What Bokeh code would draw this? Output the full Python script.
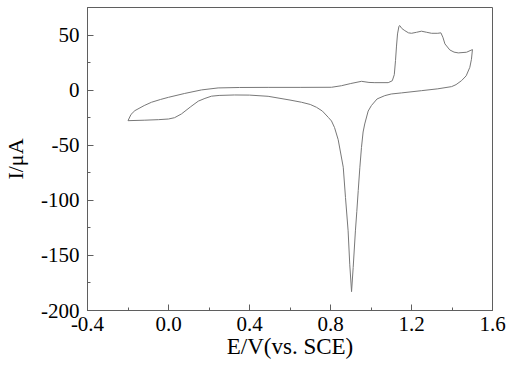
from bokeh.plotting import figure
from bokeh.models import FixedTicker, Range1d
from bokeh.embed import file_html
from bokeh.resources import INLINE

# ---- data ----
# forward (anodic) sweep from -0.2 V to 1.5 V
fwd_E = [-0.200, -0.185, -0.166, -0.120, -0.084, -0.040, 0.000, 0.080, 0.163, 0.245,
         0.350, 0.492, 0.650, 0.805, 0.854, 0.900, 0.953, 0.990, 1.019, 1.085,
         1.105, 1.115, 1.121, 1.126, 1.131, 1.138, 1.142, 1.152, 1.167, 1.185,
         1.200, 1.225, 1.249, 1.275, 1.299, 1.330, 1.345, 1.355, 1.365, 1.389,
         1.410, 1.431, 1.472, 1.501]
fwd_I = [-27.7, -22.0, -18.6, -14.0, -11.0, -8.5, -6.5, -3.0, 0.2, 2.0,
         2.4, 2.5, 2.5, 2.6, 4.0, 6.0, 8.0, 7.0, 6.8, 6.8,
         8.5, 14.0, 26.8, 40.0, 51.0, 58.0, 58.6, 56.0, 54.0, 52.0,
         51.6, 52.5, 53.5, 52.5, 51.6, 51.6, 52.0, 48.0, 42.0, 36.5,
         34.5, 33.8, 34.4, 36.8]
# reverse (cathodic) sweep from 1.5 V back to -0.2 V
rev_E = [1.496, 1.488, 1.470, 1.447, 1.420, 1.398, 1.330, 1.249, 1.151, 1.100,
         1.068, 1.030, 1.002, 0.986, 0.969, 0.961, 0.953, 0.945, 0.937, 0.930,
         0.923, 0.912, 0.904, 0.895, 0.887, 0.874, 0.863, 0.838, 0.820, 0.805,
         0.789, 0.760, 0.731, 0.700, 0.657, 0.600, 0.492, 0.400, 0.326, 0.250,
         0.212, 0.180, 0.147, 0.110, 0.064, 0.030, 0.000, -0.050, -0.120, -0.200]
rev_I = [28.0, 20.7, 13.0, 8.6, 5.0, 3.2, 1.2, -0.5, -2.5, -3.5,
         -5.0, -8.0, -14.0, -19.0, -30.7, -38.0, -52.0, -70.0, -91.0, -110.0,
         -127.7, -161.0, -182.9, -158.0, -127.7, -97.5, -70.0, -45.0, -34.0, -28.0,
         -24.7, -19.0, -15.6, -13.0, -11.0, -9.0, -5.6, -4.5, -4.4, -4.8,
         -5.5, -7.5, -10.0, -15.0, -21.6, -25.0, -26.2, -26.8, -27.3, -27.7]

x_ticks = [-0.4, 0.0, 0.4, 0.8, 1.2, 1.6]
x_tick_labels = ["-0.4", "0.0", "0.4", "0.8", "1.2", "1.6"]
x_minor = [-0.4, -0.2, 0.0, 0.2, 0.4, 0.6, 0.8, 1.0, 1.2, 1.4, 1.6]
y_ticks = [-200, -150, -100, -50, 0, 50]
y_tick_labels = ["-200", "-150", "-100", "-50", "0", "50"]
y_minor = [-200, -175, -150, -125, -100, -75, -50, -25, 0, 25, 50, 75]

x_title = "E/V(vs. SCE)"
y_title = "I/\u03bcA"

FONT = "Liberation Serif"
AX = "#5f5f5f"

p = figure(width=507, height=367, output_backend="svg", toolbar_location=None,
           title=None,
           x_range=Range1d(-0.4, 1.6), y_range=Range1d(-200, 75),
           min_border_left=86, min_border_right=15, min_border_top=7, min_border_bottom=57)
p.xgrid.visible = False
p.ygrid.visible = False
p.outline_line_color = AX
p.outline_line_width = 1
p.background_fill_color = "white"
p.border_fill_color = "white"

p.line(fwd_E + rev_E, fwd_I + rev_I, line_color="#787878", line_width=1)

for ax in (p.xaxis[0], p.yaxis[0]):
    ax.axis_line_color = AX
    ax.major_tick_line_color = AX
    ax.minor_tick_line_color = AX
    ax.major_tick_in = 6
    ax.major_tick_out = 0
    ax.minor_tick_in = 3
    ax.minor_tick_out = 0
    ax.major_label_text_font = FONT
    ax.major_label_text_font_size = "21px"
    ax.major_label_text_color = "black"
    ax.axis_label_text_font = FONT
    ax.axis_label_text_font_style = "normal"
    ax.axis_label_text_color = "black"

p.xaxis[0].ticker = FixedTicker(ticks=x_ticks, minor_ticks=x_minor)
p.xaxis[0].major_label_overrides = {t: l for t, l in zip(x_ticks, x_tick_labels)}
p.xaxis[0].major_label_standoff = 6
p.xaxis[0].axis_label = x_title
p.xaxis[0].axis_label_text_font_size = "23px"
p.xaxis[0].axis_label_standoff = 0

p.yaxis[0].ticker = FixedTicker(ticks=y_ticks, minor_ticks=y_minor)
p.yaxis[0].major_label_overrides = {t: l for t, l in zip(y_ticks, y_tick_labels)}
p.yaxis[0].major_label_standoff = 8
p.yaxis[0].axis_label = y_title
p.yaxis[0].axis_label_text_font_size = "22px"
p.yaxis[0].axis_label_standoff = 10

open("out.html", "w").write(file_html(p, INLINE))
